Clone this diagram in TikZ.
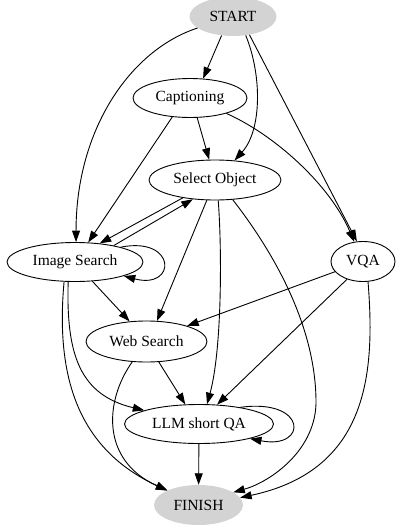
\documentclass[tikz,border=0pt]{standalone}
\usepackage{fontspec}
\setmainfont{Liberation Serif}
\usetikzlibrary{shapes.geometric,arrows.meta}
\definecolor{termgray}{HTML}{D3D3D3}
\begin{document}
\begin{tikzpicture}[x=1pt,y=-1pt,
  nd/.style={ellipse,draw=black,line width=0.9pt,inner sep=0pt,font=\fontsize{15.5}{18}\selectfont,minimum height=39pt},
  term/.style={ellipse,fill=termgray,draw=none,inner sep=0pt,font=\fontsize{15.5}{18}\selectfont,minimum height=39pt},
  edge/.style={draw=black,line width=0.9pt,-{Triangle[length=11.5pt,width=8pt]}}]
\useasboundingbox (0,0) rectangle (396,525);
\node[term,minimum width=87pt] (start) at (233,16.5) {START};
\node[nd,minimum width=114pt] (cap) at (190,98) {Captioning};
\node[nd,minimum width=132pt,minimum height=40pt] (sel) at (215,180) {Select Object};
\node[nd,minimum width=136pt] (img) at (75,262) {Image Search};
\node[nd,minimum width=64pt,minimum height=40pt] (vqa) at (363,261.5) {VQA};
\node[nd,minimum width=121pt,minimum height=41pt] (web) at (146.5,341.5) {Web Search};
\node[nd,minimum width=149pt] (llm) at (199,424) {LLM short QA};
\node[term,minimum width=89pt,minimum height=40pt] (fin) at (198.5,505) {FINISH};
% START
\draw[edge] (start.198) .. controls (130,50) and (76,130) .. (img.87);
\draw[edge] (start.239) -- (cap.56);
\draw[edge] (start.304) .. controls (262,75) and (262,130) .. (sel.45);
\draw[edge] (start.312) -- (vqa.107);
% Captioning
\draw[edge] (cap.227) -- (img.56);
\draw[edge] (cap.290) -- (sel.106);
\draw[edge] (cap.337) .. controls (275,135) and (330,185) .. (vqa.114);
% Select Object / Image Search
\draw[edge] (sel.209) -- (img.37);
\draw[edge] (img.23) -- (sel.221);
\draw[edge] (img.18) .. controls (177,236) and (177,290) .. (img.-16);
\draw[edge] (sel.248) -- (web.63);
\draw[edge] (sel.279) .. controls (222,250) and (222,350) .. (llm.68);
\draw[edge] (sel.312) .. controls (268,245) and (315,320) .. (316,400) .. controls (317,450) and (270,482) .. (fin.20);
\draw[edge] (img.312) -- (web.130);
\draw[edge] (img.251) .. controls (66,355) and (80,395) .. (llm.166);
\draw[edge] (img.241) .. controls (55,380) and (80,450) .. (fin.155);
% VQA
\draw[edge] (vqa.200) -- (web.21);
\draw[edge] (vqa.228) -- (llm.47);
\draw[edge] (vqa.284) .. controls (375,370) and (370,470) .. (fin.10);
% Web Search
\draw[edge] (web.301) -- (llm.125);
\draw[edge] (web.235) .. controls (105,400) and (100,460) .. (fin.155);
% LLM short QA
\draw[edge] (llm.22) .. controls (308,398) and (308,450) .. (llm.-16);
\draw[edge] (llm) -- (fin);
\end{tikzpicture}
\end{document}
